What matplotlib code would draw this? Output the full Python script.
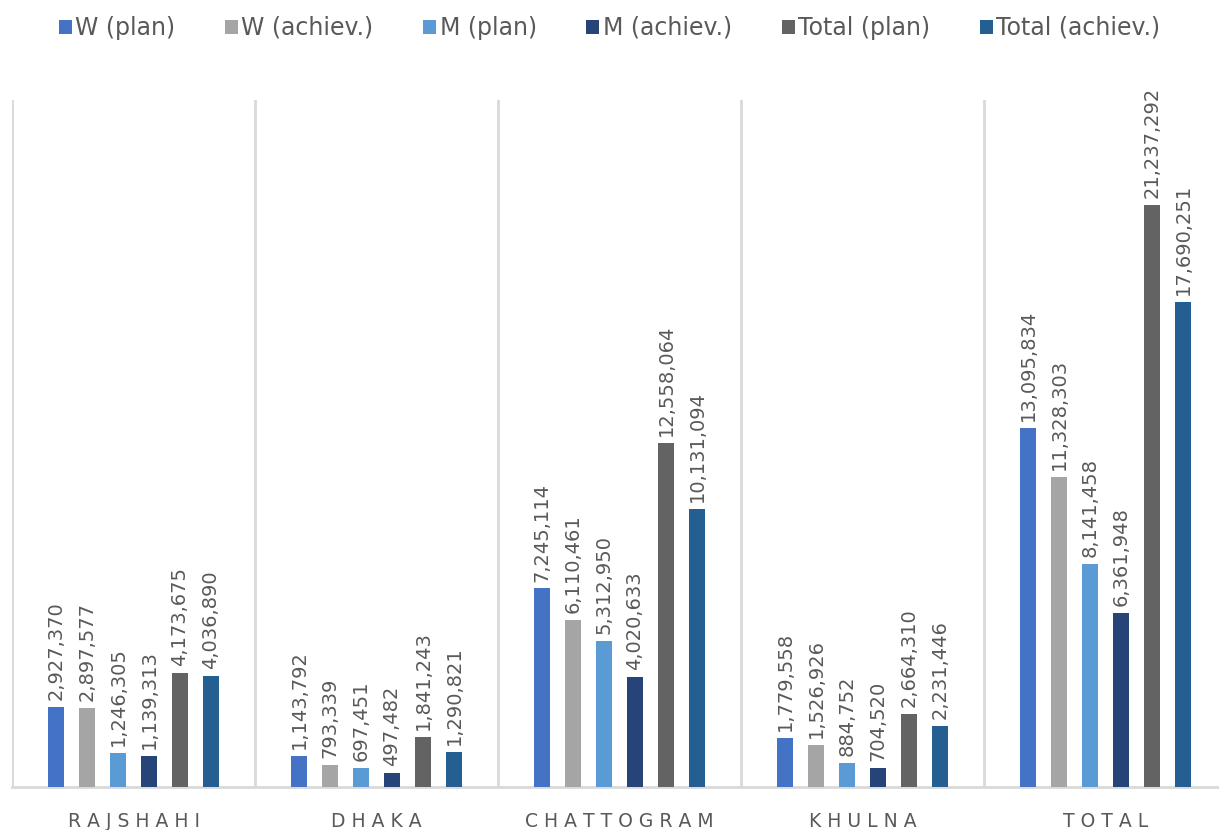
import matplotlib
matplotlib.use("Agg")
import matplotlib.pyplot as plt
import numpy as np

categories = ["RAJSHAHI", "DHAKA", "CHATTOGRAM", "KHULNA", "TOTAL"]
series_names = ["W (plan)", "W (achiev.)", "M (plan)", "M (achiev.)", "Total (plan)", "Total (achiev.)"]
w_plan = [2927370, 1143792, 7245114, 1779558, 13095834]
w_achiev = [2897577, 793339, 6110461, 1526926, 11328303]
m_plan = [1246305, 697451, 5312950, 884752, 8141458]
m_achiev = [1139313, 497482, 4020633, 704520, 6361948]
total_plan = [4173675, 1841243, 12558064, 2664310, 21237292]
total_achiev = [4036890, 1290821, 10131094, 2231446, 17690251]
colors = ["#4472C4", "#A5A5A5", "#5B9BD5", "#264478", "#636363", "#255E91"]

series = [w_plan, w_achiev, m_plan, m_achiev, total_plan, total_achiev]

W, H = 1219, 830
fig = plt.figure(figsize=(W / 100, H / 100), dpi=100)
left = 12 / W
bottom = (H - 787) / H
top = (H - 100) / H
ax = fig.add_axes([left, bottom, 1 - left, top - bottom])

x = np.arange(len(categories))
spacing = 31 / 243
bw = 16 / 243
txt_color = "#595959"
for i, (vals, c, name) in enumerate(zip(series, colors, series_names)):
    xs = x + (i - 2.5) * spacing
    ax.bar(xs, vals, width=bw, color=c, label=name, zorder=3)
    for xi, v in zip(xs, vals):
        ax.annotate(f"{v:,}", (xi, v), xytext=(0, 5), textcoords="offset points",
                    rotation=90, ha="center", va="bottom", fontsize=14,
                    color=txt_color, zorder=4)

ax.set_xlim(-0.5, -0.5 + (W - 12) / 243)
ax.set_ylim(0, 25.07e6)
for b in np.arange(-0.5, 5.0, 1.0):
    ax.axvline(b, color="#D9D9D9", lw=2, zorder=1)
ax.axhline(0, color="#D9D9D9", lw=2, zorder=2, clip_on=False)
for s in ax.spines.values():
    s.set_visible(False)
ax.set_yticks([])
ax.set_xticks(x)
ax.set_xticklabels([" ".join(c) for c in categories], fontsize=13.5, color=txt_color)
ax.tick_params(axis="x", length=0, pad=18)

handles, labels = ax.get_legend_handles_labels()
fig.legend(handles, labels, loc="center", bbox_to_anchor=(0.5, (H - 28) / H), ncol=6,
           frameon=False, labelcolor=txt_color, handlelength=0.55,
           handleheight=0.55, handletextpad=0.15, columnspacing=2.1,
           prop={"size": 17})

fig.savefig("out.png", dpi=100)
